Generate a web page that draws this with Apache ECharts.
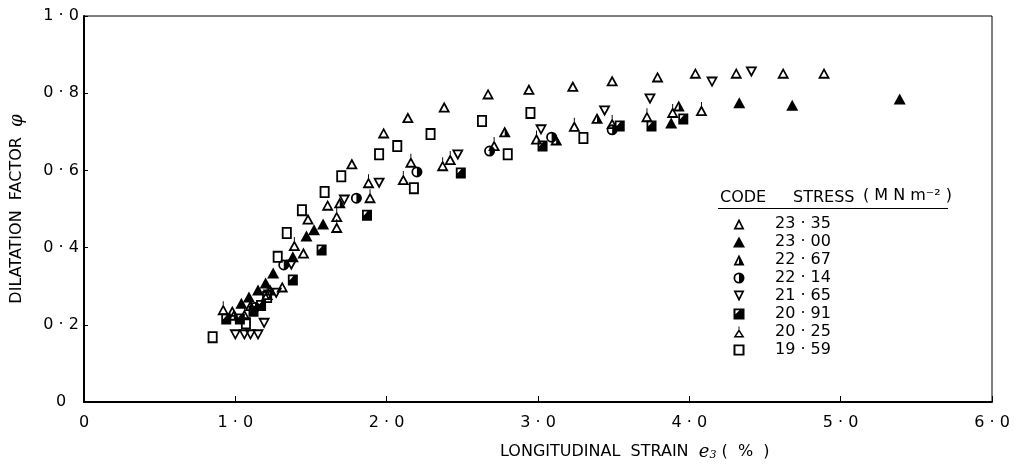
<!DOCTYPE html>
<html>
<head>
<meta charset="utf-8">
<script src="https://cdn.jsdelivr.net/npm/echarts@6/dist/echarts.min.js"></script>
<style>
  html, body { margin: 0; padding: 0; background: #fff; }
  #chart { width: 1015px; height: 466px; }
</style>
</head>
<body>
<div id="chart"></div>
<script>
// stress levels (MN m^-2), legend order
var stressNames = ["23 · 35", "23 · 00", "22 · 67", "22 · 14", "21 · 65", "20 · 91", "20 · 25", "19 · 59"];

// tick labels
var xTickLabels = ["0", "1 · 0", "2 · 0", "3 · 0", "4 · 0", "5 · 0", "6 · 0"];
var yTickLabels = ["0", "0 · 2", "0 · 4", "0 · 6", "0 · 8", "1 · 0"];

// [longitudinal strain %, dilatation factor]
var s2335 = [[0.98, 0.235], [1.31, 0.298], [1.45, 0.386], [1.48, 0.474], [1.61, 0.51], [1.77, 0.617], [1.98, 0.697], [2.14, 0.737], [2.38, 0.764], [2.67, 0.798], [2.94, 0.81], [3.23, 0.818], [3.49, 0.832], [3.79, 0.842], [4.04, 0.852], [4.31, 0.852], [4.62, 0.852], [4.89, 0.852]];
var s2300 = [[1.04, 0.256], [1.09, 0.272], [1.15, 0.29], [1.2, 0.308], [1.25, 0.334], [1.38, 0.376], [1.47, 0.43], [1.52, 0.446], [1.58, 0.461], [3.88, 0.723], [4.33, 0.775], [4.68, 0.769], [5.39, 0.785]];
var s2267 = [[0.99, 0.225], [1.1, 0.25], [1.23, 0.29], [1.69, 0.516], [2.78, 0.7], [3.12, 0.679], [3.39, 0.735], [3.93, 0.767]];
var s2214 = [[1.13, 0.245], [1.32, 0.355], [1.8, 0.528], [2.2, 0.596], [2.68, 0.65], [3.09, 0.686], [3.49, 0.705]];
var s2165 = [[1.0, 0.174], [1.06, 0.174], [1.1, 0.174], [1.15, 0.174], [1.19, 0.204], [1.22, 0.277], [1.27, 0.282], [1.37, 0.355], [1.72, 0.523], [1.95, 0.567], [2.47, 0.64], [3.02, 0.705], [3.44, 0.754], [3.74, 0.785], [4.15, 0.829], [4.41, 0.855]];
var s2091 = [[0.94, 0.215], [1.03, 0.215], [1.12, 0.235], [1.17, 0.25], [1.38, 0.316], [1.57, 0.394], [1.87, 0.484], [2.49, 0.593], [3.03, 0.663], [3.54, 0.715], [3.75, 0.715], [3.96, 0.733]];
var s2025 = [[0.92, 0.238], [1.06, 0.225], [1.21, 0.277], [1.39, 0.404], [1.67, 0.451], [1.67, 0.479], [1.88, 0.567], [1.89, 0.528], [2.11, 0.575], [2.16, 0.62], [2.37, 0.611], [2.42, 0.627], [2.71, 0.663], [2.99, 0.68], [3.24, 0.713], [3.49, 0.72], [3.72, 0.738], [3.89, 0.749], [4.08, 0.754]];
var s1959 = [[0.85, 0.168], [1.07, 0.204], [1.21, 0.272], [1.28, 0.376], [1.34, 0.438], [1.44, 0.497], [1.59, 0.544], [1.7, 0.585], [1.95, 0.642], [2.07, 0.663], [2.18, 0.554], [2.29, 0.694], [2.63, 0.728], [2.8, 0.642], [2.95, 0.749], [3.3, 0.684]];

var allData = [s2335, s2300, s2267, s2214, s2165, s2091, s2025, s1959];

// marker shapes (open ones are rings, half-filled ones get an extra filled piece)
var symbols = [
  "path://M50,0L100,100L0,100Z M50,33L25,83L75,83Z",
  "triangle",
  "path://M50,0L100,100L0,100Z M50,33L25,83L75,83Z M50,33L75,83L50,83Z",
  "path://M50,0A50,50 0 1,1 50,100A50,50 0 1,1 50,0Z M50,16A34,34 0 1,0 50,84A34,34 0 1,0 50,16Z M50,16A34,34 0 0,1 50,84Z",
  "path://M0,0L100,0L50,100Z M25,17L50,67L75,17Z",
  "path://M0,0L100,0L100,100L0,100Z M18,16L18,84L82,84L82,16Z M82,16L82,84L18,84L18,52L54,16Z",
  "path://M46,0L54,0L54,30L46,30Z M50,22L100,100L0,100Z M50,48L25,87L75,87Z",
  "path://M0,0L100,0L100,100L0,100Z M18,15L18,85L82,85L82,15Z"
];
var sizes = [[12, 11], [12, 11], [12, 11], [11, 11], [12, 11], [10, 11], [12, 14], [10, 12]];
var offsets = [[0, 0], [0, 0], [0, 0], [0, 0], [0, 0], [0, 0], [0, -2], [0, 0]];

var font = "DejaVu Sans";
var chart = echarts.init(document.getElementById("chart"));

var series = [];
for (var i = 0; i < allData.length; i++) {
  series.push({
    name: stressNames[i],
    type: "scatter",
    data: allData[i],
    symbol: symbols[i],
    symbolSize: sizes[i],
    symbolOffset: offsets[i],
    itemStyle: { color: "#000", opacity: 1 },
    emphasis: { disabled: true }
  });
}

var option = {
  animation: false,
  backgroundColor: "#fff",
  grid: {
    left: 83,
    right: 23,
    top: 16,
    bottom: 64,
    show: true,
    borderColor: "#000",
    borderWidth: 1
  },
  xAxis: {
    type: "value",
    min: 0,
    max: 6,
    interval: 1,
    axisLine: { onZero: false, lineStyle: { color: "#000", width: 2 } },
    axisTick: { inside: true, length: 6, lineStyle: { color: "#000", width: 1 } },
    splitLine: { show: false },
    axisLabel: {
      margin: 13,
      color: "#000",
      fontFamily: font,
      fontSize: 16,
      formatter: function (v) { return xTickLabels[Math.round(v)]; }
    }
  },
  yAxis: {
    type: "value",
    min: 0,
    max: 1,
    interval: 0.2,
    name: "DILATATION  FACTOR  {p|φ}",
    nameLocation: "middle",
    nameGap: 58,
    nameTextStyle: {
      color: "#000",
      fontFamily: font,
      fontSize: 16,
      rich: { p: { fontFamily: "DejaVu Serif", fontStyle: "italic", fontSize: 18, color: "#000" } }
    },
    axisLine: { onZero: false, lineStyle: { color: "#000", width: 2 } },
    axisTick: { inside: true, length: 4, lineStyle: { color: "#000", width: 1 } },
    splitLine: { show: false },
    axisLabel: {
      margin: 23,
      align: "center",
      color: "#000",
      fontFamily: font,
      fontSize: 16,
      formatter: function (v) { return yTickLabels[Math.round(v * 5)]; }
    }
  },
  legend: {
    orient: "vertical",
    left: 733,
    top: 216,
    padding: 0,
    itemWidth: 12,
    itemHeight: 11,
    itemGap: 2,
    selectedMode: false,
    data: stressNames,
    textStyle: { color: "#000", fontFamily: font, fontSize: 16, lineHeight: 16, padding: [0, 0, 0, 25] }
  },
  graphic: [
    { type: "text", left: 720, top: 190, style: { text: "CODE", fill: "#000", font: "16px " + font } },
    { type: "text", left: 793, top: 190, style: { text: "STRESS", fill: "#000", font: "16px " + font } },
    { type: "text", left: 863, top: 188, style: { text: "( M N m⁻² )", fill: "#000", font: "16px " + font } },
    { type: "line", shape: { x1: 718, y1: 208.5, x2: 948, y2: 208.5 }, style: { stroke: "#000", lineWidth: 1.2 } },
    {
      type: "text",
      left: 500,
      top: 443,
      style: {
        text: "{a|LONGITUDINAL  STRAIN  }{e|e}{s|3}{a| (  %  )}",
        rich: {
          a: { fontFamily: font, fontSize: 16, color: "#000" },
          e: { fontFamily: "DejaVu Serif", fontStyle: "italic", fontSize: 18, color: "#000" },
          s: { fontFamily: "DejaVu Serif", fontStyle: "italic", fontSize: 11, color: "#000", verticalAlign: "bottom", padding: [6, 0, 0, 0] }
        }
      }
    }
  ],
  series: series
};

chart.setOption(option);
window.addEventListener("resize", function () {
  chart.resize();
});
</script>
</body>
</html>
